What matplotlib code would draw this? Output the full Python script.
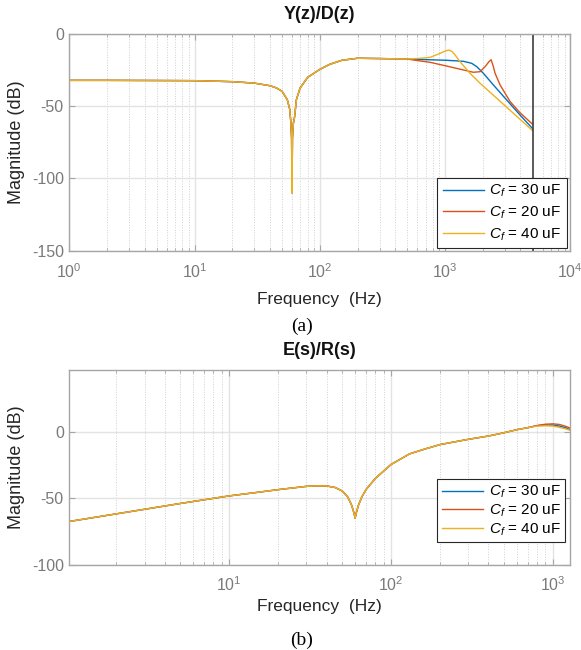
import matplotlib
matplotlib.use('Agg')
import matplotlib.pyplot as plt
from matplotlib.ticker import LogLocator, NullFormatter, FixedLocator

plt.rcParams['font.family'] = ['Liberation Sans', 'DejaVu Sans']
plt.rcParams['mathtext.fontset'] = 'custom'
plt.rcParams['mathtext.rm'] = 'Liberation Sans'
plt.rcParams['mathtext.it'] = 'Liberation Sans:italic'
plt.rcParams['mathtext.bf'] = 'Liberation Sans:bold'
plt.rcParams['axes.unicode_minus'] = False

# (a) Y(z)/D(z): part shared by all three filters (up to 500 Hz)
freq_a = [1, 2, 5, 10, 20, 30, 40, 45, 50, 55, 57.5, 58.7, 59.5, 60, 60.5, 61.5,
          63, 65, 69.6, 80, 100, 120, 150, 200, 300, 500]
mag_a = [-32.1, -32.1, -32.2, -32.3, -33.0, -34.0, -35.8, -37.3, -39.7, -45.5, -52.0,
         -61.0, -72.0, -110.0, -72.0, -62.0, -57.0, -45.5, -37.4, -30.0, -24.5, -21.0,
         -18.2, -16.8, -17.0, -17.3]

# (a) above 500 Hz, one list per filter capacitor
freq_a30 = [500, 558, 800, 1031, 1401, 1633, 1790, 2024, 2432, 3107, 3970, 5000]
mag_a30 = [-17.3, -17.5, -17.9, -18.2, -18.9, -20.3, -22.6, -27.2, -35.3, -45.7, -56.1, -65.5]

freq_a20 = [500, 558, 759, 1031, 1401, 1683, 1903, 2087, 2250, 2331, 2420, 2508, 2752,
            3306, 3970, 5000]
mag_a20 = [-17.3, -18.0, -19.6, -22.2, -24.9, -26.5, -26.1, -22.6, -19.0, -17.8, -22.0,
           -27.2, -35.3, -46.8, -54.5, -62.5]

freq_a40 = [500, 600, 759, 912, 1000, 1076, 1140, 1202, 1318, 1583, 1903, 2587, 3514, 5000]
mag_a40 = [-17.3, -17.0, -16.2, -13.4, -11.8, -11.1, -12.2, -14.5, -19.2, -27.2, -34.1,
           -44.5, -54.9, -66.9]

# (b) E(s)/R(s): shared part (up to 700 Hz)
freq_b = [1.029, 2, 5, 10, 15, 20, 30, 35, 40, 45, 50, 54, 57, 59, 60, 61, 63, 66, 70,
          80, 100, 130, 160, 200, 300, 400, 500, 600, 700]
mag_b = [-67.5, -61.8, -53.9, -48.2, -45.5, -43.5, -41.0, -40.6, -40.7, -41.8, -44.5,
         -49.0, -55.0, -61.0, -65.0, -61.0, -55.0, -49.0, -43.5, -35.0, -24.5, -16.5,
         -13.0, -9.5, -5.5, -3.0, -0.5, 1.8, 3.3]

freq_b_hi = [700, 800, 900, 1000, 1100, 1200, 1281]
mag_b30 = [3.3, 4.8, 5.3, 5.3, 4.5, 3.2, 1.8]
mag_b20 = [3.3, 5.0, 5.9, 6.2, 5.7, 4.3, 3.0]
mag_b40 = [3.3, 4.5, 4.7, 4.5, 3.5, 2.4, 1.2]

labels = [r'$C_f$ = 30 uF', r'$C_f$ = 20 uF', r'$C_f$ = 40 uF']
colors = ['#0072BD', '#D95319', '#EDB120']

nyquist = 5000

fig = plt.figure(figsize=(5.81, 6.5), dpi=100)
ax1 = fig.add_axes([0.1193, 0.6143, 0.8623, 0.3334])
ax2 = fig.add_axes([0.1193, 0.1315, 0.8623, 0.2992])


def style(ax):
    ax.set_xscale('log')
    ax.xaxis.set_minor_locator(LogLocator(base=10, subs=range(2, 10), numticks=20))
    ax.xaxis.set_minor_formatter(NullFormatter())
    ax.grid(True, which='major', color='#E3E3E3', lw=1.0)
    ax.grid(True, which='minor', axis='x', color='#CFCFCF', ls=':', lw=0.7)
    ax.set_axisbelow(True)
    for s in ax.spines.values():
        s.set_color('#A6A6A6')
        s.set_linewidth(1.0)
    ax.tick_params(which='both', direction='in', top=True, right=True, color='#A6A6A6',
                   labelcolor='#7A7A7A', labelsize=11.5)
    ax.tick_params(which='major', length=4)
    ax.tick_params(which='minor', length=2)
    ax.tick_params(axis='x', pad=8)
    ax.tick_params(axis='y', pad=4)


# ---- (a)
for fr, mg, c in [(freq_a30, mag_a30, colors[0]), (freq_a20, mag_a20, colors[1]),
                  (freq_a40, mag_a40, colors[2])]:
    ax1.plot(freq_a + fr[1:], mag_a + mg[1:], color=c, lw=1.0)
ax1.axvline(nyquist, color='#404040', lw=1.2)
style(ax1)
ax1.set_xlim(1, 1e4)
ax1.set_ylim(-150, 0)
ax1.yaxis.set_major_locator(FixedLocator([-150, -100, -50, 0]))
ax1.set_xlabel('Frequency  (Hz)', fontsize=12.5, color='#262626')
ax1.set_ylabel('Magnitude (dB)', fontsize=13, color='#262626')
ax1.xaxis.set_label_coords(0.5, -0.19)
ax1.yaxis.set_label_coords(-0.088, 0.5)
ax1.text(0.5, 1.0877, 'Y(z)/D(z)', transform=ax1.transAxes, ha='center', va='center',
         fontsize=13, fontweight='bold', color='#111111')
leg1 = ax1.legend(labels, loc='lower right', bbox_to_anchor=(0.9928, 0.011),
                  borderaxespad=0, fontsize=11, handlelength=2.7, handletextpad=0.35,
                  labelspacing=0.35, borderpad=0.35, fancybox=False, framealpha=1,
                  edgecolor='#262626')
leg1.get_frame().set_linewidth(0.8)

# ---- (b)
for mg, c in [(mag_b30, colors[0]), (mag_b20, colors[1]), (mag_b40, colors[2])]:
    ax2.plot(freq_b + freq_b_hi[1:], mag_b + mg[1:], color=c, lw=1.0)
style(ax2)
ax2.set_xlim(1.029, 1281)
ax2.set_ylim(-100, 46.8)
ax2.yaxis.set_major_locator(FixedLocator([-100, -50, 0]))
ax2.set_xlabel('Frequency  (Hz)', fontsize=12.5, color='#262626')
ax2.set_ylabel('Magnitude (dB)', fontsize=13, color='#262626')
ax2.xaxis.set_label_coords(0.5, -0.175)
ax2.yaxis.set_label_coords(-0.088, 0.5)
ax2.text(0.5, 1.1028, 'E(s)/R(s)', transform=ax2.transAxes, ha='center', va='center',
         fontsize=13, fontweight='bold', color='#111111')
leg2 = ax2.legend(labels, loc='lower right', bbox_to_anchor=(0.99, 0.114),
                  borderaxespad=0, fontsize=11, handlelength=2.7, handletextpad=0.35,
                  labelspacing=0.15, borderpad=0.3, fancybox=False, framealpha=1,
                  edgecolor='#262626')
leg2.get_frame().set_linewidth(0.8)

fig.text(301.7 / 581, 1 - 326 / 650, '(a)', family='Liberation Serif', fontsize=14,
         ha='center', va='center')
fig.text(301.7 / 581, 1 - 640 / 650, '(b)', family='Liberation Serif', fontsize=14,
         ha='center', va='center')

fig.savefig('out.png', dpi=100)
